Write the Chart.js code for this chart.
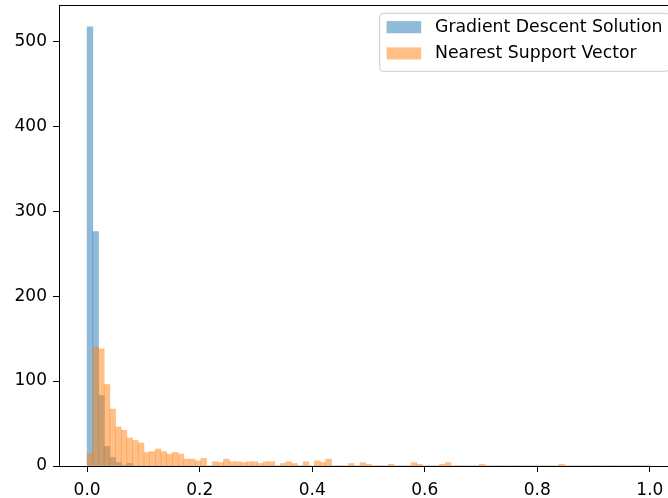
<!DOCTYPE html>
<html>
<head>
<meta charset="utf-8">
<title>Histogram</title>
<script src="https://cdn.jsdelivr.net/npm/chart.js@4.4.0/dist/chart.umd.min.js"></script>
<style>
  html, body { margin: 0; padding: 0; background: #fff; overflow: hidden; }
</style>
</head>
<body>
<canvas id="hist" width="680" height="498"></canvas>
<script>
// histogram bins: 99 bins from 0.0 to 1.0
const binStart = 0.0;
const binWidth = 0.0101;

const seriesLabels = ["Gradient Descent Solution", "Nearest Support Vector"];

const gradientCounts = [
  517, 276, 83, 23, 10, 4, 1, 3, 0, 0,
  0, 0, 0, 0, 0, 0, 0, 0, 0, 0,
  0, 0, 0, 0, 0, 0, 0, 0, 0, 0,
  0, 0, 0, 0, 0, 0, 0, 0, 0, 0,
  0, 0, 0, 0, 0, 0, 0, 0, 0, 0,
  0, 0, 0, 0, 0, 0, 0, 0, 0, 0,
  0, 0, 0, 0, 0, 0, 0, 0, 0, 0,
  0, 0, 0, 0, 0, 0, 0, 0, 0, 0,
  0, 0, 0, 0, 0, 0, 0, 0, 0, 0,
  0, 0, 0, 0, 0, 0, 0, 0, 0
];

const nearestCounts = [
  15, 140, 138, 96, 67, 46, 42, 33, 30, 27,
  16, 17, 20, 17, 14, 16, 14, 8, 8, 6,
  9, 0, 5, 4, 8, 5, 5, 4, 5, 5,
  3, 5, 5, 0, 3, 5, 3, 0, 5, 0,
  6, 4, 8, 0, 0, 0, 3, 0, 4, 2,
  0, 0, 0, 2, 0, 0, 0, 4, 2, 0,
  0, 0, 2, 4, 0, 0, 0, 0, 0, 2,
  0, 0, 0, 0, 0, 0, 0, 0, 0, 0,
  0, 0, 0, 2, 0, 0, 0, 0, 0, 0,
  0, 0, 0, 0, 0, 0, 0, 0, 0
];

const xTickValues = [0.0, 0.2, 0.4, 0.6, 0.8, 1.0];
const yTickValues = [0, 100, 200, 300, 400, 500];

const fontSize = 17;
const legendFontSize = 17.3;

Chart.defaults.font.family = "'DejaVu Sans', sans-serif";
Chart.defaults.font.size = fontSize;
Chart.defaults.color = "#000";

function to_points(counts) {
  // bar centred in the middle of each bin
  return counts.map(function (c, i) {
    return { x: binStart + (i + 0.5) * binWidth, y: c };
  });
}

// matplotlib style frame, all four spines
const spines = {
  id: "spines",
  afterDraw(chart) {
    const ctx = chart.ctx;
    const a = chart.chartArea;
    ctx.save();
    ctx.strokeStyle = "#000";
    ctx.lineWidth = 1;
    ctx.strokeRect(a.left + 0.5, a.top + 0.5, a.right - a.left, a.bottom - a.top);
    ctx.restore();
  },
};

// legend in the upper right corner of the axes
const legendBox = {
  id: "legendBox",
  afterDraw(chart) {
    const ctx = chart.ctx;
    const a = chart.chartArea;
    const fs = legendFontSize;
    const sets = chart.data.datasets;

    ctx.save();
    ctx.font = fs + "px 'DejaVu Sans'";
    let textW = 0;
    sets.forEach(function (ds) {
      textW = Math.max(textW, ctx.measureText(ds.label).width);
    });

    const pad = 0.4 * fs;
    const handleLen = 2.0 * fs;
    const handleH = 0.7 * fs;
    const gap = 0.8 * fs;
    const w = 2 * pad + handleLen + gap + textW;
    const h = 3.35 * fs;
    const x0 = a.right - 0.5 * fs - w;
    const y0 = a.top + 0.48 * fs;

    ctx.beginPath();
    ctx.roundRect(x0, y0, w, h, 0.2 * fs);
    ctx.fillStyle = "rgba(255,255,255,0.8)";
    ctx.fill();
    ctx.strokeStyle = "#cccccc";
    ctx.lineWidth = 1;
    ctx.stroke();

    ctx.textBaseline = "middle";
    ctx.textAlign = "left";
    sets.forEach(function (ds, i) {
      const cy = y0 + 0.8 * fs + i * 1.52 * fs;
      ctx.fillStyle = ds.backgroundColor;
      ctx.fillRect(x0 + pad, cy - handleH / 2, handleLen, handleH);
      ctx.fillStyle = "#000";
      ctx.fillText(ds.label, x0 + pad + handleLen + gap, cy);
    });
    ctx.restore();
  },
};

new Chart(document.getElementById("hist"), {
  type: "bar",
  data: {
    datasets: [
      {
        label: seriesLabels[0],
        data: to_points(gradientCounts),
        backgroundColor: "rgba(31, 119, 180, 0.5)",
        borderWidth: 0,
        barPercentage: 1.0,
        categoryPercentage: 1.0,
        grouped: false,
        order: 2,
      },
      {
        label: seriesLabels[1],
        data: to_points(nearestCounts),
        backgroundColor: "rgba(255, 127, 14, 0.5)",
        borderWidth: 0,
        barPercentage: 1.0,
        categoryPercentage: 1.0,
        grouped: false,
        order: 1, // drawn on top of the blue one
      },
    ],
  },
  options: {
    responsive: false,
    animation: false,
    layout: { padding: { top: 5, right: 2, left: 0, bottom: 0 } },
    plugins: {
      legend: { display: false },
      tooltip: { enabled: false },
    },
    scales: {
      x: {
        type: "linear",
        min: -0.05,
        max: 1.05,
        offset: false,
        border: { display: true, color: "#000", width: 1 },
        grid: {
          offset: false,
          drawOnChartArea: false,
          drawTicks: true,
          tickLength: 6,
          tickColor: "#000",
          tickWidth: 1,
        },
        ticks: {
          padding: 8,
          maxRotation: 0,
          callback: function (value) {
            return value.toFixed(1);
          },
        },
        afterBuildTicks: function (scale) {
          scale.ticks = xTickValues.map(function (v) { return { value: v }; });
        },
        afterFit: function (scale) {
          scale.height = 32;
          scale.paddingLeft = 0;
          scale.paddingRight = 0;
        },
      },
      y: {
        type: "linear",
        min: 0,
        max: 542.85,
        border: { display: true, color: "#000", width: 1 },
        grid: {
          drawOnChartArea: false,
          drawTicks: true,
          tickLength: 6,
          tickColor: "#000",
          tickWidth: 1,
        },
        ticks: { padding: 6 },
        afterBuildTicks: function (scale) {
          scale.ticks = yTickValues.map(function (v) { return { value: v }; });
        },
        afterFit: function (scale) {
          // labels never reach the ends of the axis, no extra padding
          scale.width = 59;
          scale.paddingTop = 0;
          scale.paddingBottom = 0;
        },
      },
    },
  },
  plugins: [spines, legendBox],
});
</script>
</body>
</html>
